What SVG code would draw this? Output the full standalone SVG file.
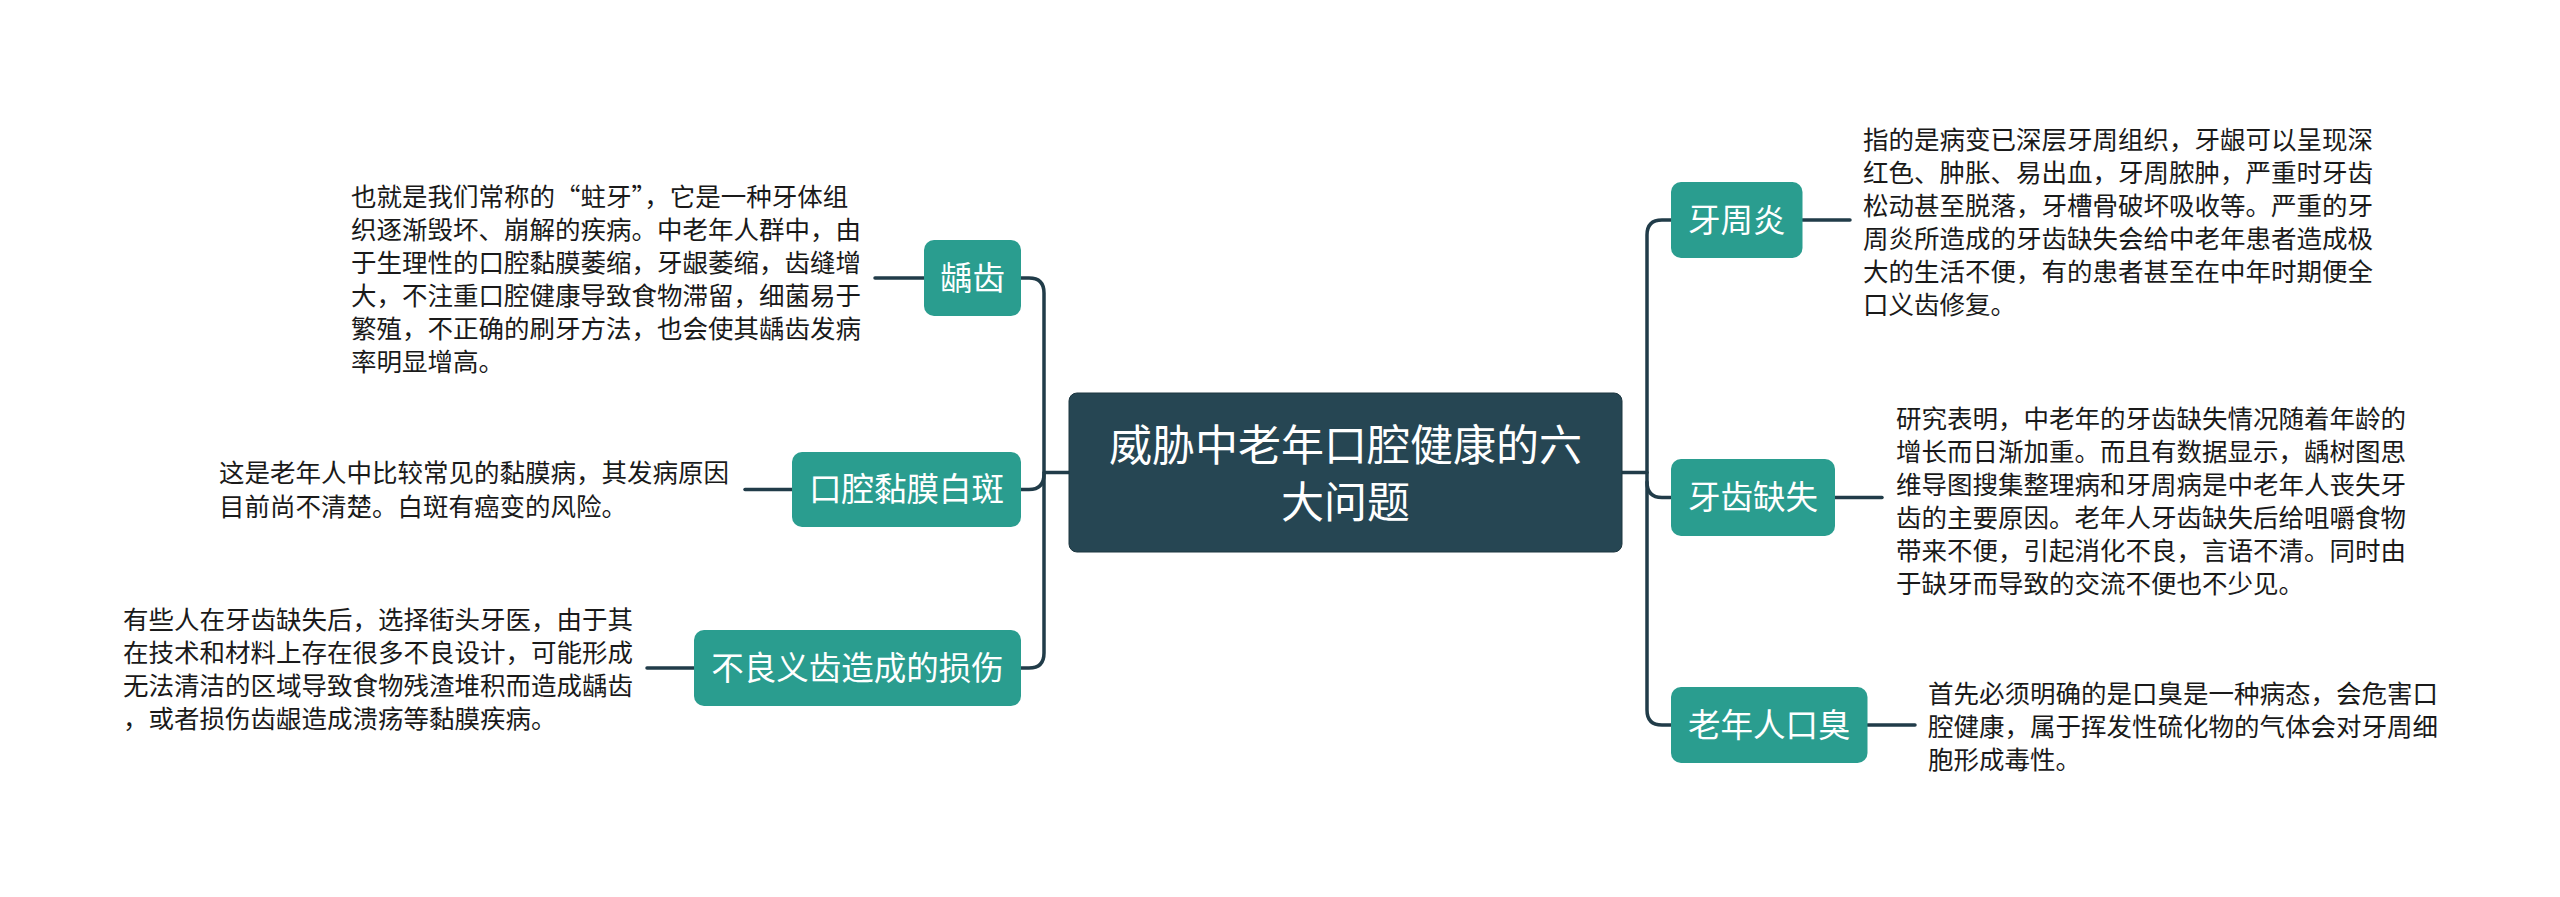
<svg xmlns="http://www.w3.org/2000/svg" width="2560" height="897" viewBox="0 0 2560 897">
<style>
.bg{fill:#ffffff}
.conn{fill:none;stroke:#213c49;stroke-width:3.5;stroke-linecap:round}
.center rect{fill:#264653;stroke:#1d3640;stroke-width:1}
.center text{fill:#ffffff;font-family:"Noto Sans CJK SC","Noto Sans",sans-serif;font-size:43px;text-anchor:middle}
.node rect{fill:#2a9d8f}
.node text{fill:#ffffff;font-family:"Noto Sans CJK SC","Noto Sans",sans-serif;font-size:32.5px;text-anchor:middle}
.desc text{fill:#1a1a1a;font-family:"Noto Sans CJK SC","Noto Sans",sans-serif;font-size:25.5px}
</style>
<rect class="bg" x="0" y="0" width="2560" height="897"/>
<g id="connectors">
<path class="conn" d="M1069,472.5 H1044"/>
<path class="conn" d="M1021,278 H1029 Q1044,278 1044,293 V653 Q1044,668 1029,668 H1021"/>
<path class="conn" d="M1044,474 Q1044,489.5 1029,489.5 H1021"/>
<path class="conn" d="M1622,472.5 H1647"/>
<path class="conn" d="M1671,220 H1662 Q1647,220 1647,235 V710 Q1647,725 1662,725 H1671"/>
<path class="conn" d="M1647,482 Q1647,497.5 1662,497.5 H1671"/>
<path class="conn" d="M875,278 H924"/>
<path class="conn" d="M745,489.5 H792"/>
<path class="conn" d="M647,668 H694"/>
<path class="conn" d="M1802.5,220 H1850"/>
<path class="conn" d="M1835,497.5 H1882"/>
<path class="conn" d="M1867.5,725 H1915"/>
</g>
<g id="center" class="center">
<rect x="1069" y="393" width="553" height="159" rx="8"/>
<text x="1345.5" y="460.5">威胁中老年口腔健康的六</text>
<text x="1345.5" y="517.5">大问题</text>
</g>
<g id="node-quchi" class="node">
<rect x="924" y="240" width="97" height="76" rx="10"/>
<text x="972.5" y="289.5">龋齿</text>
</g>
<g id="desc-quchi" class="desc">
<text x="351" y="206">也就是我们常称的“蛀牙”，它是一种牙体组</text>
<text x="351" y="239">织逐渐毁坏、崩解的疾病。中老年人群中，由</text>
<text x="351" y="272">于生理性的口腔黏膜萎缩，牙龈萎缩，齿缝增</text>
<text x="351" y="305">大，不注重口腔健康导致食物滞留，细菌易于</text>
<text x="351" y="338">繁殖，不正确的刷牙方法，也会使其龋齿发病</text>
<text x="351" y="371">率明显增高。</text>
</g>
<g id="node-baiban" class="node">
<rect x="792" y="452" width="229" height="75" rx="10"/>
<text x="906.5" y="501">口腔黏膜白斑</text>
</g>
<g id="desc-baiban" class="desc">
<text x="219" y="482">这是老年人中比较常见的黏膜病，其发病原因</text>
<text x="219" y="516">目前尚不清楚。白斑有癌变的风险。</text>
</g>
<g id="node-yichi" class="node">
<rect x="694" y="630" width="327" height="76" rx="10"/>
<text x="857.5" y="679.5">不良义齿造成的损伤</text>
</g>
<g id="desc-yichi" class="desc">
<text x="123" y="629">有些人在牙齿缺失后，选择街头牙医，由于其</text>
<text x="123" y="662">在技术和材料上存在很多不良设计，可能形成</text>
<text x="123" y="695">无法清洁的区域导致食物残渣堆积而造成龋齿</text>
<text x="123" y="728">，或者损伤齿龈造成溃疡等黏膜疾病。</text>
</g>
<g id="node-yazhouyan" class="node">
<rect x="1671" y="182" width="131.5" height="76" rx="10"/>
<text x="1736.75" y="231.5">牙周炎</text>
</g>
<g id="desc-yazhouyan" class="desc">
<text x="1863" y="149">指的是病变已深层牙周组织，牙龈可以呈现深</text>
<text x="1863" y="182">红色、肿胀、易出血，牙周脓肿，严重时牙齿</text>
<text x="1863" y="215">松动甚至脱落，牙槽骨破坏吸收等。严重的牙</text>
<text x="1863" y="248">周炎所造成的牙齿缺失会给中老年患者造成极</text>
<text x="1863" y="281">大的生活不便，有的患者甚至在中年时期便全</text>
<text x="1863" y="314">口义齿修复。</text>
</g>
<g id="node-quexi" class="node">
<rect x="1671" y="459" width="164" height="77" rx="10"/>
<text x="1753" y="509">牙齿缺失</text>
</g>
<g id="desc-quexi" class="desc">
<text x="1896" y="428">研究表明，中老年的牙齿缺失情况随着年龄的</text>
<text x="1896" y="461">增长而日渐加重。而且有数据显示，龋树图思</text>
<text x="1896" y="494">维导图搜集整理病和牙周病是中老年人丧失牙</text>
<text x="1896" y="527">齿的主要原因。老年人牙齿缺失后给咀嚼食物</text>
<text x="1896" y="560">带来不便，引起消化不良，言语不清。同时由</text>
<text x="1896" y="593">于缺牙而导致的交流不便也不少见。</text>
</g>
<g id="node-kouchou" class="node">
<rect x="1671" y="687" width="196.5" height="76" rx="10"/>
<text x="1769.25" y="736.5">老年人口臭</text>
</g>
<g id="desc-kouchou" class="desc">
<text x="1928" y="703">首先必须明确的是口臭是一种病态，会危害口</text>
<text x="1928" y="736">腔健康，属于挥发性硫化物的气体会对牙周细</text>
<text x="1928" y="769">胞形成毒性。</text>
</g>
</svg>
